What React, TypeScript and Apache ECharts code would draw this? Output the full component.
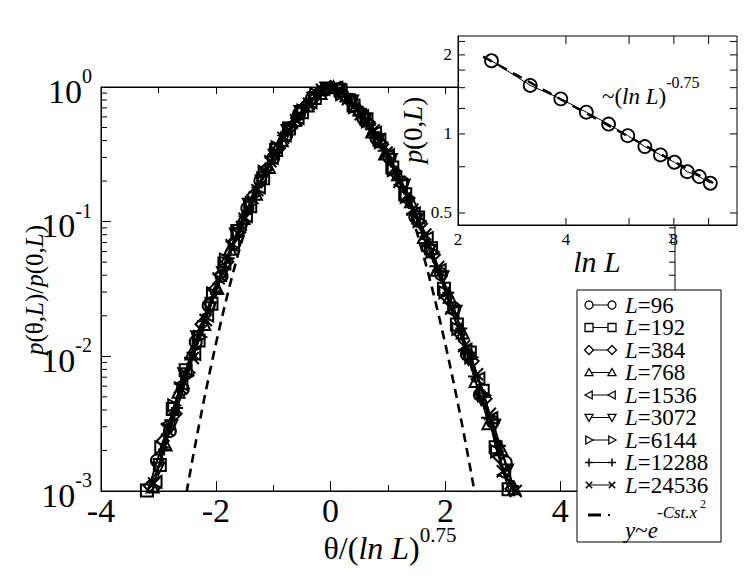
import React, { useEffect, useRef } from 'react';
import * as echarts from 'echarts';

const FONT = '"Liberation Serif", "Times New Roman", Times, serif';

// ---- main panel: scaled distribution p(theta,L)/p(0,L) vs theta/(ln L)^0.75 ----
const systemSizes = ['96', '192', '384', '768', '1536', '3072', '6144', '12288', '24536'];
const markerKinds = ['circle', 'square', 'diamond', 'triUp', 'triLeft', 'triDown', 'triRight', 'plus', 'cross'];

const collapse96 = [[-3.25, 0.00082], [-3.025, 0.00168], [-2.8, 0.00279], [-2.575, 0.00572], [-2.35, 0.0128], [-2.125, 0.0238], [-1.9, 0.0395], [-1.675, 0.0691], [-1.45, 0.126], [-1.225, 0.202], [-1.0, 0.297], [-0.775, 0.436], [-0.55, 0.632], [-0.325, 0.823], [-0.1, 0.955], [0.125, 0.96], [0.35, 0.803], [0.575, 0.581], [0.8, 0.415], [1.025, 0.3], [1.25, 0.195], [1.475, 0.109], [1.7, 0.0644], [1.925, 0.0408], [2.15, 0.0227], [2.375, 0.01033], [2.6, 0.00519], [2.825, 0.00327], [3.05, 0.00163]];
const collapse192 = [[-3.2, 0.00101], [-2.975, 0.00156], [-2.75, 0.00407], [-2.525, 0.00787], [-2.3, 0.0131], [-2.075, 0.0246], [-1.85, 0.049], [-1.625, 0.0852], [-1.4, 0.13], [-1.175, 0.21], [-0.95, 0.341], [-0.725, 0.491], [-0.5, 0.648], [-0.275, 0.83], [-0.05, 1.008], [0.175, 0.937], [0.4, 0.73], [0.625, 0.576], [0.85, 0.406], [1.075, 0.252], [1.3, 0.16], [1.525, 0.1074], [1.75, 0.0635], [1.975, 0.0318], [2.2, 0.0172], [2.425, 0.01068], [2.65, 0.00554], [2.875, 0.00211], [3.1, 0.00103]];
const collapse384 = [[-3.15, 0.00109], [-2.925, 0.00235], [-2.7, 0.00374], [-2.475, 0.00754], [-2.25, 0.0173], [-2.025, 0.0314], [-1.8, 0.0504], [-1.575, 0.0866], [-1.35, 0.157], [-1.125, 0.246], [-0.9, 0.351], [-0.675, 0.509], [-0.45, 0.717], [-0.225, 0.903], [0, 1.0], [0.225, 0.867], [0.45, 0.682], [0.675, 0.535], [0.9, 0.376], [1.125, 0.229], [1.35, 0.145], [1.575, 0.0967], [1.8, 0.0567], [2.025, 0.0275], [2.25, 0.0147], [2.475, 0.00922], [2.7, 0.00485], [2.925, 0.00181], [3.15, 0.00104]];
const collapse768 = [[-3.1, 0.00108], [-2.875, 0.00221], [-2.65, 0.00545], [-2.425, 0.01049], [-2.2, 0.0174], [-1.975, 0.0321], [-1.75, 0.0629], [-1.525, 0.1064], [-1.3, 0.161], [-1.075, 0.255], [-0.85, 0.402], [-0.625, 0.57], [-0.4, 0.73], [-0.175, 0.901], [0.05, 0.998], [0.275, 0.864], [0.5, 0.681], [0.725, 0.467], [0.95, 0.321], [1.175, 0.225], [1.4, 0.142], [1.625, 0.077], [1.85, 0.0439], [2.075, 0.0277], [2.3, 0.015], [2.525, 0.00657], [2.75, 0.00319], [2.975, 0.00204], [3.2, 0.00105]];
const collapse1536 = [[-3.05, 0.00117], [-2.825, 0.00316], [-2.6, 0.00623], [-2.375, 0.01044], [-2.15, 0.0201], [-1.925, 0.0404], [-1.7, 0.0705], [-1.475, 0.11], [-1.25, 0.18], [-1.025, 0.2975], [-0.8, 0.437], [-0.575, 0.587], [-0.35, 0.771], [-0.125, 0.969], [0.1, 0.984], [0.325, 0.791], [0.55, 0.608], [0.775, 0.458], [1.0, 0.312], [1.225, 0.188], [1.45, 0.115], [1.675, 0.0756], [1.9, 0.0436], [2.125, 0.0213], [2.35, 0.0112], [2.575, 0.00684], [2.8, 0.00347], [3.025, 0.00132], [3.25, 0.00096]];
const collapse3072 = [[-3.0, 0.00147], [-2.775, 0.00302], [-2.55, 0.00737], [-2.325, 0.01386], [-2.1, 0.0228], [-1.875, 0.0416], [-1.65, 0.0802], [-1.425, 0.1333], [-1.2, 0.2], [-0.975, 0.31], [-0.75, 0.472], [-0.525, 0.653], [-0.3, 0.819], [-0.075, 0.976], [0.15, 0.955], [0.375, 0.781], [0.6, 0.567], [0.825, 0.399], [1.05, 0.287], [1.275, 0.1855], [1.5, 0.103], [1.725, 0.0605], [1.95, 0.0386], [2.175, 0.0214], [2.4, 0.00961], [2.625, 0.00481], [2.85, 0.00305], [3.075, 0.00142]];
const collapse6144 = [[-2.95, 0.00211], [-2.725, 0.00432], [-2.5, 0.00716], [-2.275, 0.0139], [-2.05, 0.0294], [-1.825, 0.0522], [-1.6, 0.0827], [-1.375, 0.1373], [-1.15, 0.234], [-0.925, 0.3566], [-0.7, 0.49], [-0.475, 0.668], [-0.25, 0.884], [-0.025, 1.004], [0.2, 0.885], [0.425, 0.71], [0.65, 0.555], [0.875, 0.389], [1.1, 0.241], [1.325, 0.1528], [1.55, 0.101], [1.775, 0.0597], [2.0, 0.0298], [2.225, 0.016], [2.45, 0.00983], [2.675, 0.00514], [2.9, 0.00197], [3.125, 0.00097]];
const collapse12288 = [[-2.9, 0.00203], [-2.675, 0.00413], [-2.45, 0.00974], [-2.225, 0.0182], [-2.0, 0.0301], [-1.775, 0.0535], [-1.55, 0.1], [-1.325, 0.1656], [-1.1, 0.243], [-0.875, 0.366], [-0.65, 0.55], [-0.425, 0.738], [-0.2, 0.885], [0.025, 0.984], [0.25, 0.884], [0.475, 0.696], [0.7, 0.485], [0.925, 0.336], [1.15, 0.236], [1.375, 0.15], [1.6, 0.0827], [1.825, 0.0467], [2.05, 0.0296], [2.275, 0.0161], [2.5, 0.00708], [2.725, 0.0035], [2.95, 0.00217], [3.175, 0.00109]];
const collapse24536 = [[-3.075, 0.00114], [-2.85, 0.00286], [-2.625, 0.00587], [-2.4, 0.00972], [-2.175, 0.0186], [-1.95, 0.0379], [-1.725, 0.0669], [-1.5, 0.105], [-1.275, 0.1714], [-1.05, 0.281], [-0.825, 0.419], [-0.6, 0.567], [-0.375, 0.751], [-0.15, 0.955], [0.075, 0.996], [0.3, 0.81], [0.525, 0.627], [0.75, 0.477], [0.975, 0.326], [1.2, 0.198], [1.425, 0.123], [1.65, 0.0802], [1.875, 0.046], [2.1, 0.0226], [2.325, 0.01191], [2.55, 0.00737], [2.775, 0.00375], [3.0, 0.0014], [3.225, 0.001]];
const collapseData = [collapse96, collapse192, collapse384, collapse768, collapse1536, collapse3072, collapse6144, collapse12288, collapse24536];

// gaussian guide y ~ exp(-Cst x^2)
const gaussTheta = [-2.6, -2.5, -2.4, -2.3, -2.2, -2.1, -2.0, -1.9, -1.8, -1.7, -1.6, -1.5, -1.4, -1.3, -1.2, -1.0, -0.8, -0.6, -0.4, -0.2, 0, 0.2, 0.4, 0.6, 0.8, 1.0, 1.2, 1.3, 1.4, 1.5, 1.6, 1.7, 1.8, 1.9, 2.0, 2.1, 2.2, 2.3, 2.4, 2.5, 2.6];
const gaussRatio = [0.00059, 0.00103, 0.00177, 0.00297, 0.00488, 0.00782, 0.01228, 0.01886, 0.02833, 0.04163, 0.0598, 0.0842, 0.1158, 0.1559, 0.2051, 0.3329, 0.4946, 0.673, 0.839, 0.957, 1, 0.957, 0.839, 0.673, 0.4946, 0.3329, 0.2051, 0.1559, 0.1158, 0.0842, 0.0598, 0.04163, 0.02833, 0.01886, 0.01228, 0.00782, 0.00488, 0.00297, 0.00177, 0.00103, 0.00059];

const mainYMinorTicks = [0.002, 0.003, 0.004, 0.005, 0.006, 0.007, 0.008, 0.009, 0.02, 0.03, 0.04, 0.05, 0.06, 0.07, 0.08, 0.09, 0.2, 0.3, 0.4, 0.5, 0.6, 0.7, 0.8, 0.9];

// ---- inset: p(0,L) vs ln L ----
const lnL = [2.48, 3.18, 3.87, 4.56, 5.26, 5.95, 6.64, 7.34, 8.03, 8.72, 9.42, 10.11];
const p0 = [1.9, 1.53, 1.36, 1.21, 1.09, 0.985, 0.895, 0.832, 0.78, 0.718, 0.688, 0.649];
const fitLnL = [2.35, 10.3];
const fitP0 = [1.97, 0.65];
const insetXTicks = [4, 6, 8, 10];
const insetYTicks = [0.5, 0.75, 1, 1.25, 1.5, 1.75, 2, 2.25];

function seriesSymbol(kind: string): { symbol: string; rotate: number } {
  switch (kind) {
    case 'circle': return { symbol: 'circle', rotate: 0 };
    case 'square': return { symbol: 'rect', rotate: 0 };
    case 'diamond': return { symbol: 'diamond', rotate: 0 };
    case 'triUp': return { symbol: 'triangle', rotate: 0 };
    case 'triLeft': return { symbol: 'triangle', rotate: 90 };
    case 'triDown': return { symbol: 'triangle', rotate: 180 };
    case 'triRight': return { symbol: 'triangle', rotate: -90 };
    case 'plus': return { symbol: 'path://M5,0L5,10M0,5L10,5', rotate: 0 };
    default: return { symbol: 'path://M0,0L10,10M10,0L0,10', rotate: 0 };
  }
}

function legendMarker(kind: string, cx: number, cy: number, r: number): any[] {
  const st = { fill: '#fff', stroke: '#000', lineWidth: 1.3 };
  const z = 102;
  const poly = (pts: number[][]) => [{ type: 'polygon', z, shape: { points: pts }, style: st }];
  switch (kind) {
    case 'circle': return [{ type: 'circle', z, shape: { cx, cy, r }, style: st }];
    case 'square': return [{ type: 'rect', z, shape: { x: cx - r, y: cy - r, width: 2 * r, height: 2 * r }, style: st }];
    case 'diamond': return poly([[cx, cy - r - 0.5], [cx + r + 0.5, cy], [cx, cy + r + 0.5], [cx - r - 0.5, cy]]);
    case 'triUp': return poly([[cx, cy - r], [cx + r, cy + r * 0.8], [cx - r, cy + r * 0.8]]);
    case 'triDown': return poly([[cx, cy + r], [cx + r, cy - r * 0.8], [cx - r, cy - r * 0.8]]);
    case 'triLeft': return poly([[cx - r, cy], [cx + r * 0.8, cy - r], [cx + r * 0.8, cy + r]]);
    case 'triRight': return poly([[cx + r, cy], [cx - r * 0.8, cy - r], [cx - r * 0.8, cy + r]]);
    case 'plus': return [
      { type: 'line', z, shape: { x1: cx - r, y1: cy, x2: cx + r, y2: cy }, style: { stroke: '#000', lineWidth: 1.5 } },
      { type: 'line', z, shape: { x1: cx, y1: cy - r, x2: cx, y2: cy + r }, style: { stroke: '#000', lineWidth: 1.5 } },
    ];
    default: return [
      { type: 'line', z, shape: { x1: cx - r * 0.8, y1: cy - r * 0.8, x2: cx + r * 0.8, y2: cy + r * 0.8 }, style: { stroke: '#000', lineWidth: 1.5 } },
      { type: 'line', z, shape: { x1: cx + r * 0.8, y1: cy - r * 0.8, x2: cx - r * 0.8, y2: cy + r * 0.8 }, style: { stroke: '#000', lineWidth: 1.5 } },
    ];
  }
}

function buildOption(): any {
  const axisLine = { show: true, onZero: false, lineStyle: { color: '#000', width: 1 } };
  const tick = { show: true, inside: true, length: 10, lineStyle: { color: '#000', width: 1 } };
  const minor = { show: true, splitNumber: 2, length: 6, lineStyle: { color: '#000', width: 1 } };

  const mainSeries = collapseData.map((d, k) => {
    const s = seriesSymbol(markerKinds[k]);
    return {
      type: 'line', name: 'L=' + systemSizes[k], xAxisIndex: 0, yAxisIndex: 0,
      data: d, symbol: s.symbol, symbolRotate: s.rotate, symbolSize: 12, showSymbol: true,
      itemStyle: { color: 'rgba(0,0,0,0)', borderColor: '#000', borderWidth: 2 },
      lineStyle: { color: '#000', width: 1.4 }, z: 2, silent: true,
    };
  });

  const gaussSeries = {
    type: 'line', name: 'gauss', xAxisIndex: 0, yAxisIndex: 0,
    data: gaussTheta.map((t, i) => [t, gaussRatio[i]]), symbol: 'none', showSymbol: false,
    lineStyle: { color: '#000', width: 2.6, type: [9, 6] }, z: 2, silent: true,
  };

  const mainMinorTickSeries = {
    type: 'custom', xAxisIndex: 0, yAxisIndex: 0, silent: true, z: 3,
    data: mainYMinorTicks.map((v) => [0, v]),
    renderItem: (params: any, api: any) => {
      const cs = params.coordSys;
      const y = api.coord([0, api.value(1)])[1];
      const st = { stroke: '#000', lineWidth: 1 };
      return {
        type: 'group', children: [
          { type: 'line', shape: { x1: cs.x, y1: y, x2: cs.x + 6, y2: y }, style: st },
          { type: 'line', shape: { x1: cs.x + cs.width - 6, y1: y, x2: cs.x + cs.width, y2: y }, style: st },
        ],
      };
    },
  };

  const insetSeries = {
    type: 'line', name: 'p0', xAxisIndex: 2, yAxisIndex: 1,
    data: lnL.map((x, i) => [x, p0[i]]), symbol: 'circle', symbolSize: 13, showSymbol: true,
    itemStyle: { color: 'rgba(0,0,0,0)', borderColor: '#000', borderWidth: 1.8 },
    lineStyle: { color: '#000', width: 1 }, z: 8, silent: true,
  };
  const insetFit = {
    type: 'line', name: 'fit', xAxisIndex: 2, yAxisIndex: 1,
    data: fitLnL.map((x, i) => [x, fitP0[i]]), symbol: 'none', showSymbol: false,
    lineStyle: { color: '#000', width: 2.4, type: [10, 7] }, z: 7, silent: true,
  };
  const insetXTickSeries = {
    type: 'custom', xAxisIndex: 2, yAxisIndex: 1, silent: true, z: 8,
    data: insetXTicks.map((v) => [v, 1]),
    renderItem: (params: any, api: any) => {
      const cs = params.coordSys;
      const x = api.coord([api.value(0), 1])[0];
      const st = { stroke: '#000', lineWidth: 1 };
      return {
        type: 'group', children: [
          { type: 'line', shape: { x1: x, y1: cs.y + cs.height, x2: x, y2: cs.y + cs.height - 7 }, style: st },
          { type: 'line', shape: { x1: x, y1: cs.y, x2: x, y2: cs.y + 8 }, style: st },
        ],
      };
    },
  };
  const insetYTickSeries = {
    type: 'custom', xAxisIndex: 2, yAxisIndex: 1, silent: true, z: 8,
    data: insetYTicks.map((v) => [4, v]),
    renderItem: (params: any, api: any) => {
      const cs = params.coordSys;
      const y = api.coord([4, api.value(1)])[1];
      const st = { stroke: '#000', lineWidth: 1 };
      return {
        type: 'group', children: [
          { type: 'line', shape: { x1: cs.x, y1: y, x2: cs.x + 7, y2: y }, style: st },
          { type: 'line', shape: { x1: cs.x + cs.width - 7, y1: y, x2: cs.x + cs.width, y2: y }, style: st },
        ],
      };
    },
  };

  // ---- graphic: titles, annotation, legend ----
  const tok = (size: number, italic: boolean, extra: any = {}) => ({
    fontSize: size, fontFamily: FONT, fontStyle: italic ? 'italic' : 'normal', fill: '#000', ...extra,
  });
  const graphics: any[] = [];
  graphics.push({
    type: 'text', x: 34, y: 290, rotation: Math.PI / 2, z: 50,
    style: {
      text: '{i|p}{n|(θ,}{i|L}{n|)/}{i|p}{n|(0,}{i|L}{n|)}', align: 'center', verticalAlign: 'middle',
      rich: { i: tok(25, true), n: tok(25, false) },
    },
  });
  graphics.push({
    type: 'text', x: 390, y: 524, z: 50,
    style: {
      text: '{n|θ/(}{i|ln L}{n|)}{s|0.75}', align: 'center', verticalAlign: 'top',
      rich: {
        n: tok(32, false, { lineHeight: 40, verticalAlign: 'bottom' }),
        i: tok(32, true, { lineHeight: 40, verticalAlign: 'bottom' }),
        s: tok(21, false, { verticalAlign: 'top' }),
      },
    },
  });
  graphics.push({
    type: 'text', x: 597, y: 261, z: 50,
    style: { text: 'ln L', align: 'center', verticalAlign: 'middle', ...tok(30, true) },
  });
  graphics.push({
    type: 'text', x: 413, y: 130, rotation: Math.PI / 2, z: 50,
    style: {
      text: '{i|p}{n|(0,}{i|L}{n|)}', align: 'center', verticalAlign: 'middle',
      rich: { i: tok(27, true), n: tok(27, false) },
    },
  });
  graphics.push({
    type: 'text', x: 602, y: 74, z: 50,
    style: {
      text: '{n|~(}{i|ln L}{n|)}{s|-0.75}', align: 'left', verticalAlign: 'top',
      rich: {
        n: tok(23, false, { lineHeight: 34, verticalAlign: 'bottom' }),
        i: tok(23, true, { lineHeight: 34, verticalAlign: 'bottom' }),
        s: tok(16, false, { verticalAlign: 'top' }),
      },
    },
  });

  // legend box
  graphics.push({
    type: 'rect', z: 100, shape: { x: 577, y: 290, width: 144, height: 252 },
    style: { fill: '#fff', stroke: '#000', lineWidth: 1 },
  });
  systemSizes.forEach((sz, k) => {
    const cy = 305 + 22.5 * k;
    graphics.push({ type: 'line', z: 101, shape: { x1: 589, y1: cy, x2: 612, y2: cy }, style: { stroke: '#000', lineWidth: 1 } });
    legendMarker(markerKinds[k], 589, cy, 4).forEach((e) => graphics.push(e));
    legendMarker(markerKinds[k], 612, cy, 4).forEach((e) => graphics.push(e));
    graphics.push({
      type: 'text', x: 625, y: cy, z: 102,
      style: { text: '{i|L}{n|=' + sz + '}', align: 'left', verticalAlign: 'middle', rich: { i: tok(23, true), n: tok(23, false) } },
    });
  });
  graphics.push({ type: 'line', z: 101, shape: { x1: 588, y1: 515, x2: 601, y2: 515 }, style: { stroke: '#000', lineWidth: 3 } });
  graphics.push({ type: 'rect', z: 101, shape: { x: 608, y: 514, width: 2, height: 2 }, style: { fill: '#000' } });
  graphics.push({
    type: 'text', x: 625, y: 530, z: 102,
    style: { text: '{i|y}{n|~}{i|e}', align: 'left', verticalAlign: 'middle', rich: { i: tok(23, true), n: tok(23, false) } },
  });
  graphics.push({ type: 'text', x: 657, y: 512, z: 102, style: { text: '-Cst.x', align: 'left', verticalAlign: 'middle', ...tok(17, true) } });
  graphics.push({ type: 'text', x: 700, y: 504, z: 102, style: { text: '2', align: 'left', verticalAlign: 'middle', ...tok(12, false) } });

  return {
    animation: false,
    backgroundColor: '#fff',
    textStyle: { fontFamily: FONT, color: '#000' },
    grid: [
      { left: 101, top: 87, width: 574, height: 404, show: true, borderColor: '#000', borderWidth: 1, backgroundColor: 'rgba(0,0,0,0)', z: 0, outerBoundsMode: 'none' },
      { left: 458, top: 36, width: 279, height: 189, show: true, borderColor: '#000', borderWidth: 1, backgroundColor: '#fff', z: 5, outerBoundsMode: 'none' },
    ],
    xAxis: [
      {
        gridIndex: 0, type: 'value', min: -4, max: 6, interval: 2, position: 'bottom',
        axisLine, axisTick: tick, minorTick: minor, splitLine: { show: false }, minorSplitLine: { show: false },
        axisLabel: {
          fontSize: 34, fontFamily: FONT, color: '#000', margin: 2, showMinLabel: true, showMaxLabel: true,
          formatter: (v: number) => (v === 6 ? '' : String(v)),
        },
      },
      {
        gridIndex: 0, type: 'value', min: -4, max: 6, interval: 2, position: 'top',
        axisLine, axisTick: { ...tick, length: 7 }, minorTick: minor, splitLine: { show: false },
        axisLabel: { show: false },
      },
      {
        gridIndex: 1, type: 'log', logBase: 2, min: 2, max: 12, z: 6,
        axisLine, axisTick: { show: false }, splitLine: { show: false },
        axisLabel: {
          fontSize: 17, fontFamily: FONT, color: '#000', margin: 6, showMinLabel: true, showMaxLabel: false,
          formatter: (v: number) => String(Math.round(v)),
        },
      },
    ],
    yAxis: [
      {
        gridIndex: 0, type: 'log', logBase: 10, min: 0.001, max: 1,
        axisLine, axisTick: tick, splitLine: { show: false },
        axisLabel: {
          margin: 9, showMinLabel: true, showMaxLabel: true,
          formatter: (v: number) => '{b|10}{s|' + Math.round(Math.log10(v)) + '}',
          rich: {
            b: { fontSize: 34, fontFamily: FONT, color: '#000', lineHeight: 42, verticalAlign: 'bottom' },
            s: { fontSize: 20, fontFamily: FONT, color: '#000', verticalAlign: 'top' },
          },
        },
      },
      {
        gridIndex: 1, type: 'log', logBase: 2, min: 0.45, max: 2.36, z: 6,
        axisLine, axisTick: { show: false }, splitLine: { show: false },
        axisLabel: {
          fontSize: 17, fontFamily: FONT, color: '#000', margin: 6, showMinLabel: false, showMaxLabel: false,
          formatter: (v: number) => String(Number(v.toPrecision(3))),
        },
      },
    ],
    series: [gaussSeries, ...mainSeries, mainMinorTickSeries, insetFit, insetSeries, insetXTickSeries, insetYTickSeries],
    graphic: { elements: graphics },
  };
}

export default function App() {
  const ref = useRef<HTMLDivElement>(null);
  useEffect(() => {
    if (!ref.current) return;
    const chart = echarts.init(ref.current, null, { renderer: 'svg' });
    chart.setOption(buildOption());
    return () => chart.dispose();
  }, []);
  return (
    <div
      ref={ref}
      style={{ position: 'absolute', left: 0, top: 0, width: 747, height: 578, background: '#fff' }}
    />
  );
}
